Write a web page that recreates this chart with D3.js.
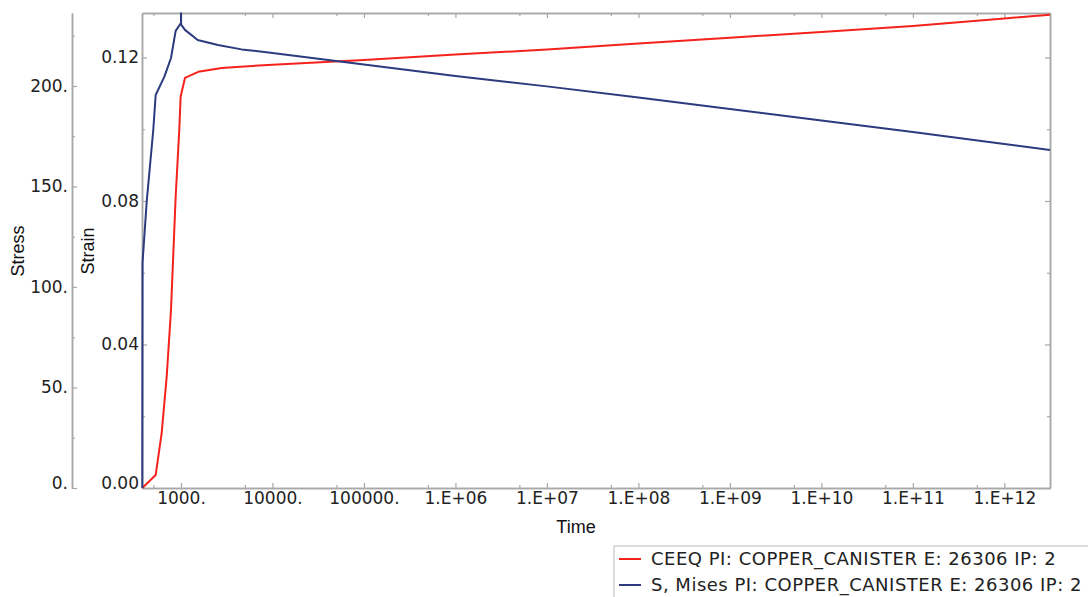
<!DOCTYPE html>
<html>
<head>
<meta charset="utf-8">
<script src="https://cdn.jsdelivr.net/npm/d3@7"></script>
<style>
  html, body { margin: 0; padding: 0; background: #fff; }
  svg { display: block; }
</style>
</head>
<body>
<svg id="chart" width="1088" height="597"></svg>
<script>
// ---- Data ----
const strainTime = [378, 529, 615, 698, 778, 875, 958, 992, 1106, 1545, 2786, 1e4, 1e5, 1e6, 1e7, 1e8, 1e9, 1e10, 1e11, 1e12, 3.156e12];
const strainValues = [0, 0.0036, 0.0153, 0.0310, 0.0496, 0.0812, 0.0998, 0.1091, 0.1143, 0.1160, 0.1171, 0.1180, 0.1193, 0.1208, 0.1222, 0.1239, 0.1255, 0.1271, 0.1288, 0.1309, 0.1319];

const stressTime = [378, 380, 422, 498, 529, 657, 778, 875, 1000, 1002, 1004, 1106, 1522, 2535, 4603, 1e4, 1e5, 1e6, 1e7, 1e8, 1e9, 1e10, 1e11, 1e12, 3.156e12];
const stressValues = [0, 112, 142.4, 178.1, 195.5, 204.5, 213.9, 227.4, 231.3, 236.2, 230.5, 227.9, 222.9, 220.4, 218.2, 216.4, 210.7, 205.0, 199.8, 194.3, 188.6, 182.8, 177.1, 171.1, 168.2];

const timeMajorTicks = [1e3, 1e4, 1e5, 1e6, 1e7, 1e8, 1e9, 1e10, 1e11, 1e12];
const timeMinorTicks = [500, 5e3, 5e4, 5e5, 5e6, 5e7, 5e8, 5e9, 5e10, 5e11];
const timeTickLabels = ["1000.", "10000.", "100000.", "1.E+06", "1.E+07", "1.E+08", "1.E+09", "1.E+10", "1.E+11", "1.E+12"];
const strainMajorTicks = [0, 0.04, 0.08, 0.12];
const strainMinorTicks = [0.02, 0.06, 0.10];
const stressMajorTicks = [0, 50, 100, 150, 200];
const stressMinorTicks = [25, 75, 125, 175, 225];

const legendLabels = ["CEEQ PI: COPPER_CANISTER E: 26306 IP: 2", "S, Mises PI: COPPER_CANISTER E: 26306 IP: 2"];
const seriesColors = ["#f5221c", "#2c3a7e"];

// ---- Layout ----
const plot = { left: 142, right: 1050, top: 13, bottom: 488 };
const stressAxisX = 72;
const axisColor = "#a8a8a8";
const tickFont = "'DejaVu Sans', Verdana, sans-serif";
const titleFont = "'Liberation Sans', Arial, sans-serif";

const svg = d3.select("#chart");
svg.append("rect").attr("width", 1088).attr("height", 597).attr("fill", "#fff");

const x = d3.scaleLog().domain([375, 3.156e12]).range([plot.left, plot.right]);
const yStrain = d3.scaleLinear().domain([0, 0.1324]).range([plot.bottom, plot.top]);
const yStress = d3.scaleLinear().domain([0, 236.3]).range([plot.bottom, plot.top]);

function styleAxis(g) {
  g.select(".domain").attr("stroke", axisColor).attr("stroke-width", 1.5);
  g.selectAll(".tick line").attr("stroke", axisColor).attr("stroke-width", 1.2);
  g.selectAll(".tick text").attr("fill", "#222").style("font-family", tickFont).style("font-size", "17px");
}

// Frame: top & right
const topAxis = svg.append("g").attr("transform", `translate(0,${plot.top})`)
  .call(d3.axisTop(x).tickValues(timeMajorTicks).tickSizeInner(-5).tickSizeOuter(0).tickFormat(""));
styleAxis(topAxis);
const topMinor = svg.append("g").attr("transform", `translate(0,${plot.top})`)
  .call(d3.axisTop(x).tickValues(timeMinorTicks).tickSizeInner(-3).tickSizeOuter(0).tickFormat(""));
styleAxis(topMinor);

const rightAxis = svg.append("g").attr("transform", `translate(${plot.right},0)`)
  .call(d3.axisRight(yStrain).tickValues(strainMajorTicks).tickSizeInner(-5).tickSizeOuter(0).tickFormat(""));
styleAxis(rightAxis);
const rightMinor = svg.append("g").attr("transform", `translate(${plot.right},0)`)
  .call(d3.axisRight(yStrain).tickValues(strainMinorTicks).tickSizeInner(-3).tickSizeOuter(0).tickFormat(""));
styleAxis(rightMinor);

// Bottom time axis
const xAxis = svg.append("g").attr("transform", `translate(0,${plot.bottom})`)
  .call(d3.axisBottom(x).tickValues(timeMajorTicks).tickSizeInner(-5).tickSizeOuter(0).tickPadding(4)
    .tickFormat((d, i) => timeTickLabels[i]));
styleAxis(xAxis);
const xMinor = svg.append("g").attr("transform", `translate(0,${plot.bottom})`)
  .call(d3.axisBottom(x).tickValues(timeMinorTicks).tickSizeInner(-3).tickSizeOuter(0).tickFormat(""));
styleAxis(xMinor);

// Strain axis (left edge of plot)
const strainAxis = svg.append("g").attr("transform", `translate(${plot.left},0)`)
  .call(d3.axisLeft(yStrain).tickValues(strainMajorTicks).tickSizeInner(-5).tickSizeOuter(0).tickPadding(3)
    .tickFormat(d3.format(".2f")));
styleAxis(strainAxis);
strainAxis.selectAll(".tick text").filter(d => d === 0).attr("dy", "0");
const strainMinor = svg.append("g").attr("transform", `translate(${plot.left},0)`)
  .call(d3.axisLeft(yStrain).tickValues(strainMinorTicks).tickSizeInner(-3).tickSizeOuter(0).tickFormat(""));
styleAxis(strainMinor);

// Stress axis (outer left)
const stressAxis = svg.append("g").attr("transform", `translate(${stressAxisX},0)`)
  .call(d3.axisLeft(yStress).tickValues(stressMajorTicks).tickSizeInner(-5).tickSizeOuter(0).tickPadding(4)
    .tickFormat(d => d + "."));
styleAxis(stressAxis);
stressAxis.selectAll(".tick text").filter(d => d === 0).attr("dy", "0");
const stressMinor = svg.append("g").attr("transform", `translate(${stressAxisX},0)`)
  .call(d3.axisLeft(yStress).tickValues(stressMinorTicks).tickSizeInner(-3).tickSizeOuter(0).tickFormat(""));
styleAxis(stressMinor);

// Axis titles
svg.append("text").attr("transform", "translate(24,251) rotate(-90)")
  .attr("text-anchor", "middle").style("font-family", titleFont).style("font-size", "18px").attr("fill", "#111").text("Stress");
svg.append("text").attr("transform", "translate(94,251) rotate(-90)")
  .attr("text-anchor", "middle").style("font-family", titleFont).style("font-size", "18px").attr("fill", "#111").text("Strain");
svg.append("text").attr("x", 576).attr("y", 533)
  .attr("text-anchor", "middle").style("font-family", titleFont).style("font-size", "18px").attr("fill", "#111").text("Time");

// Curves
const strainLine = d3.line().x((d, i) => x(strainTime[i])).y(d => yStrain(d));
const stressLine = d3.line().x((d, i) => x(stressTime[i])).y(d => yStress(d));

svg.append("path").datum(strainValues).attr("d", strainLine)
  .attr("fill", "none").attr("stroke", seriesColors[0]).attr("stroke-width", 2).attr("stroke-linejoin", "round");
svg.append("path").datum(stressValues).attr("d", stressLine)
  .attr("fill", "none").attr("stroke", seriesColors[1]).attr("stroke-width", 2).attr("stroke-linejoin", "round");

// Legend
const legend = svg.append("g");
legend.append("rect").attr("x", 614).attr("y", 546).attr("width", 490).attr("height", 70)
  .attr("fill", "#fff").attr("stroke", "#c4c4c4").attr("stroke-width", 1.2);
legendLabels.forEach((lab, i) => {
  const cy = 559 + i * 26;
  legend.append("line").attr("x1", 619).attr("x2", 641).attr("y1", cy).attr("y2", cy)
    .attr("stroke", seriesColors[i]).attr("stroke-width", 2);
  legend.append("text").attr("x", 651).attr("y", cy).attr("dy", "0.36em")
    .style("font-family", tickFont).style("font-size", "18px").style("letter-spacing", "0.5px")
    .attr("fill", "#222").text(lab);
});
</script>
</body>
</html>
